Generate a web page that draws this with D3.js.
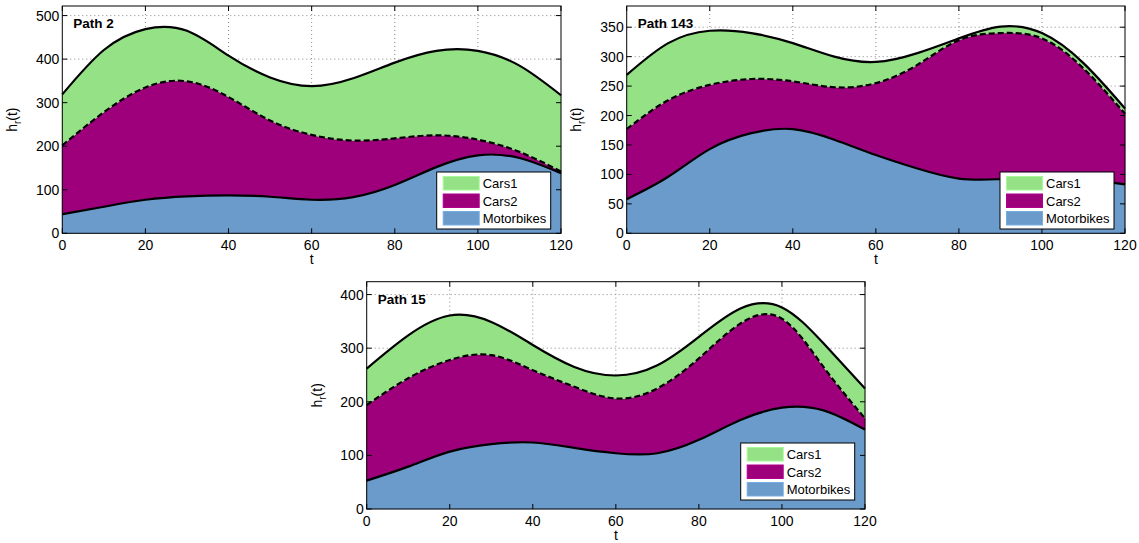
<!DOCTYPE html>
<html><head><meta charset="utf-8">
<script src="https://cdn.jsdelivr.net/npm/d3@7"></script>
<style>
body{margin:0;background:#fff;}
svg{display:block;}
text{font-family:"Liberation Sans",Arial,Helvetica,sans-serif;fill:#000;}
</style></head>
<body>
<svg id="chart" width="1139" height="543"></svg>
<script>
// ---- data ----
const tValues = [0,10,20,30,40,50,60,70,80,90,100,110,120];
const seriesNames = ["Cars1","Cars2","Motorbikes"];
const xTicks = [0,20,40,60,80,100,120];

// Path 2
const path2Motorbikes = [44,61,77,85,87,84,77,83,111,152,179,173,138];
const path2Cars2      = [158,217,258,264,226,175,149,130,107,73,36,14,4];
const path2Cars1      = [117,143,134,116,95,99,112,143,174,194,204,198,175];
const path2YTicks = [0,100,200,300,400,500];

// Path 143
const path143Motorbikes = [58,96,143,170,177,159,133,110,93,92,93,91,83];
const path143Cars2      = [119,130,109,92,81,89,122,176,235,248,238,189,120];
const path143Cars1      = [92,97,92,78,65,52,36,20,3,11,9,9,9];
const path143YTicks = [0,50,100,150,200,250,300,350];

// Path 15
const path15Motorbikes = [53,79,107,121,124,114,104,104,129,166,189,184,148];
const path15Cars2      = [141,165,171,166,135,114,102,121,152,180,166,81,21];
const path15Cars1      = [68,80,83,62,47,37,43,43,40,28,21,44,56];
const path15YTicks = [0,100,200,300,400];

const colors = {Cars1:"#94e186", Cars2:"#9e007c", Motorbikes:"#6a9bca"};

const panels = [
  {title:"Path 2", mb:path2Motorbikes, c2:path2Cars2, c1:path2Cars1, yTicks:path2YTicks, yMax:522,
   left:62.3, right:561, top:6, bottom:233.3, ylabX:17, legX:436.7, legY:172},
  {title:"Path 143", mb:path143Motorbikes, c2:path143Cars2, c1:path143Cars1, yTicks:path143YTicks, yMax:386,
   left:626.7, right:1125, top:6, bottom:233.3, ylabX:581, legX:1000, legY:172},
  {title:"Path 15", mb:path15Motorbikes, c2:path15Cars2, c1:path15Cars1, yTicks:path15YTicks, yMax:424,
   left:366.7, right:865, top:281.7, bottom:509, ylabX:322, legX:740.7, legY:443}
];

const svg = d3.select("#chart");

panels.forEach(p => {
  const g = svg.append("g");
  const x = d3.scaleLinear().domain([0,120]).range([p.left,p.right]);
  const y = d3.scaleLinear().domain([0,p.yMax]).range([p.bottom,p.top]);

  const rows = tValues.map((t,i) => ({t, Motorbikes:p.mb[i], Cars2:p.c2[i], Cars1:p.c1[i]}));
  const stack = d3.stack().keys(["Motorbikes","Cars2","Cars1"])(rows);

  // grid
  const grid = g.append("g");
  grid.selectAll("line.gx").data(xTicks.slice(1,-1)).join("line")
    .attr("x1",d=>x(d)).attr("x2",d=>x(d)).attr("y1",p.top).attr("y2",p.bottom)
    .attr("stroke","#888").attr("stroke-width",1).attr("stroke-dasharray","1,3");
  grid.selectAll("line.gy").data(p.yTicks.filter(v=>v>0)).join("line")
    .attr("x1",p.left).attr("x2",p.right).attr("y1",d=>y(d)).attr("y2",d=>y(d))
    .attr("stroke","#888").attr("stroke-width",1).attr("stroke-dasharray","1,3");

  const area = d3.area().x(d=>x(d.data.t)).y0(d=>y(d[0])).y1(d=>y(d[1])).curve(d3.curveNatural);
  g.selectAll("path.area").data(stack).join("path")
    .attr("d",area).attr("fill",d=>colors[d.key]).attr("stroke",d=>colors[d.key]).attr("stroke-width",0.5);

  const line = d3.line().x(d=>x(d.data.t)).y(d=>y(d[1])).curve(d3.curveNatural);
  g.selectAll("path.ln").data(stack).join("path")
    .attr("d",line).attr("fill","none").attr("stroke","#000").attr("stroke-width",2.2)
    .attr("stroke-dasharray",d=>d.key==="Cars2"?"6,3":null);

  // frame
  g.append("rect").attr("x",p.left).attr("y",p.top).attr("width",p.right-p.left).attr("height",p.bottom-p.top)
    .attr("fill","none").attr("stroke","#000").attr("stroke-width",1);

  // ticks inside on all sides
  const tl = 5;
  xTicks.forEach(v=>{
    g.append("line").attr("x1",x(v)).attr("x2",x(v)).attr("y1",p.bottom).attr("y2",p.bottom-tl).attr("stroke","#000");
    g.append("line").attr("x1",x(v)).attr("x2",x(v)).attr("y1",p.top).attr("y2",p.top+tl).attr("stroke","#000");
  });
  p.yTicks.forEach(v=>{
    g.append("line").attr("x1",p.left).attr("x2",p.left+tl).attr("y1",y(v)).attr("y2",y(v)).attr("stroke","#000");
    g.append("line").attr("x1",p.right).attr("x2",p.right-tl).attr("y1",y(v)).attr("y2",y(v)).attr("stroke","#000");
  });

  // tick labels
  g.selectAll("text.xt").data(xTicks).join("text")
    .attr("x",d=>x(d)).attr("y",p.bottom+17).attr("text-anchor","middle").attr("font-size",14).text(d=>d);
  g.selectAll("text.yt").data(p.yTicks).join("text")
    .attr("x",p.left-3).attr("y",d=>y(d)+5).attr("text-anchor","end").attr("font-size",14).text(d=>d);

  // axis labels
  g.append("text").attr("x",(p.left+p.right)/2).attr("y",p.bottom+31).attr("text-anchor","middle")
    .attr("font-size",14).text("t");
  const yl = g.append("text").attr("transform",`translate(${p.ylabX},${(p.top+p.bottom)/2}) rotate(-90)`)
    .attr("text-anchor","middle").attr("font-size",14);
  yl.append("tspan").text("h");
  yl.append("tspan").attr("font-size",10).attr("dy",4).text("r");
  yl.append("tspan").attr("dy",-4).text("(t)");

  // title
  g.append("text").attr("x",p.left+11).attr("y",p.top+22).attr("font-size",13.5).attr("font-weight","bold").text(p.title);

  // legend
  const lg = g.append("g").attr("transform",`translate(${p.legX},${p.legY})`);
  lg.append("rect").attr("width",114).attr("height",57).attr("fill","#fff").attr("stroke","#000").attr("stroke-width",1);
  seriesNames.forEach((s,i)=>{
    lg.append("rect").attr("x",6.5).attr("y",4.5+i*17.5).attr("width",36).attr("height",13.5)
      .attr("fill",colors[s]).attr("stroke",d3.color(colors[s]).brighter(0.3)).attr("stroke-width",1);
    lg.append("text").attr("x",46).attr("y",16+i*17.5).attr("font-size",13).text(s);
  });
});
</script>
</body></html>
